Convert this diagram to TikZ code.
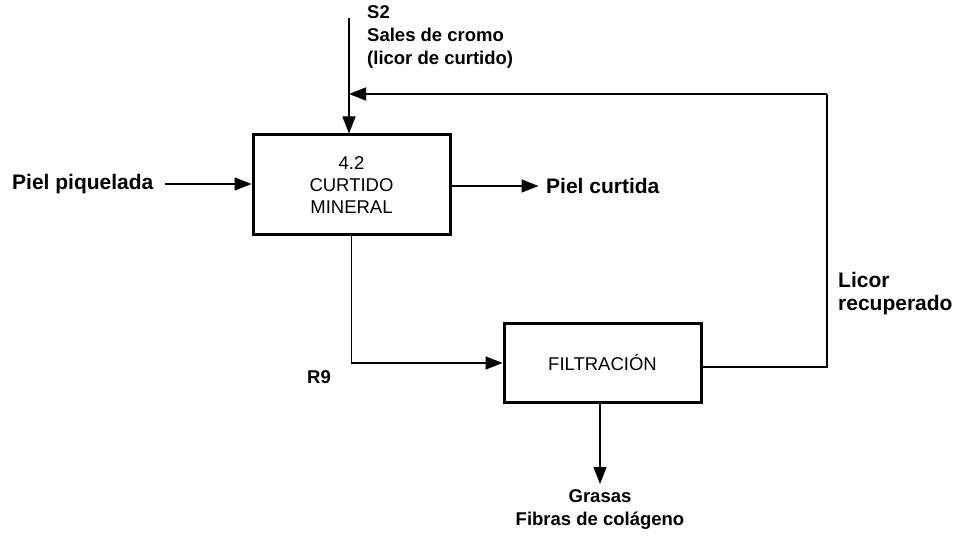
\documentclass[tikz,border=0pt]{standalone}
\usepackage{fontspec}
\setmainfont{Liberation Sans}
\usetikzlibrary{arrows.meta}
\begin{document}
\begin{tikzpicture}[x=1pt,y=-1pt,
  procbox/.style={draw,line width=3pt,rectangle,inner sep=0pt,align=center,
    font=\fontsize{18.5}{22}\selectfont},
  lbl/.style={font=\bfseries\fontsize{18.5}{23}\selectfont,inner sep=0pt},
  biglbl/.style={font=\bfseries\fontsize{21}{23}\selectfont,inner sep=0pt},
  flow/.style={line width=1.6pt,-{Triangle[length=17pt,width=13pt]}},
  plain/.style={line width=1.6pt}]
\useasboundingbox[fill=white] (0,0) rectangle (956,537);
% boxes
\node[procbox,minimum width=197pt,minimum height=100pt] (b1) at (351.5,185) {4.2\\CURTIDO\\MINERAL};
\node[procbox,minimum width=197pt,minimum height=78pt] (b2) at (602.5,363) {FILTRACIÓN};
% labels
\node[biglbl,anchor=west] (pp) at (12,184) {Piel piquelada};
\node[biglbl,anchor=west] (pc) at (546,186) {Piel curtida};
\node[lbl,anchor=north west,align=left] (s2) at (367,5) {S2\\Sales de cromo\\(licor de curtido)};
\node[biglbl,anchor=west,align=left] (lr) at (838,294) {Licor\\recuperado};
\node[lbl,anchor=west] (r9) at (307,377) {R9};
\node[lbl,anchor=north,align=center] (gr) at (600,489) {Grasas\\Fibras de colágeno};
% coordinates
\coordinate (s2top) at (349,18);
\coordinate (fbin) at (349,94);
\coordinate (fbcorner) at (827,367);
\coordinate (gend) at (600,484);
% connectors
\draw[flow] (s2top) -- (s2top |- b1.north);
\draw[flow] (pp.east) ++(11pt,0) -- (b1.west |- pp.east);
\draw[flow] (b1.east |- pc.west) -- ++(87pt,0);
\draw[plain] (b2.east |- fbcorner) -- (fbcorner) -- (fbcorner |- fbin);
\draw[flow] (fbcorner |- fbin) -- (fbin);
\draw[flow] (b1.south) |- (b2.west);
\draw[flow] (b2.south -| gend) -- (gend);
\end{tikzpicture}
\end{document}
